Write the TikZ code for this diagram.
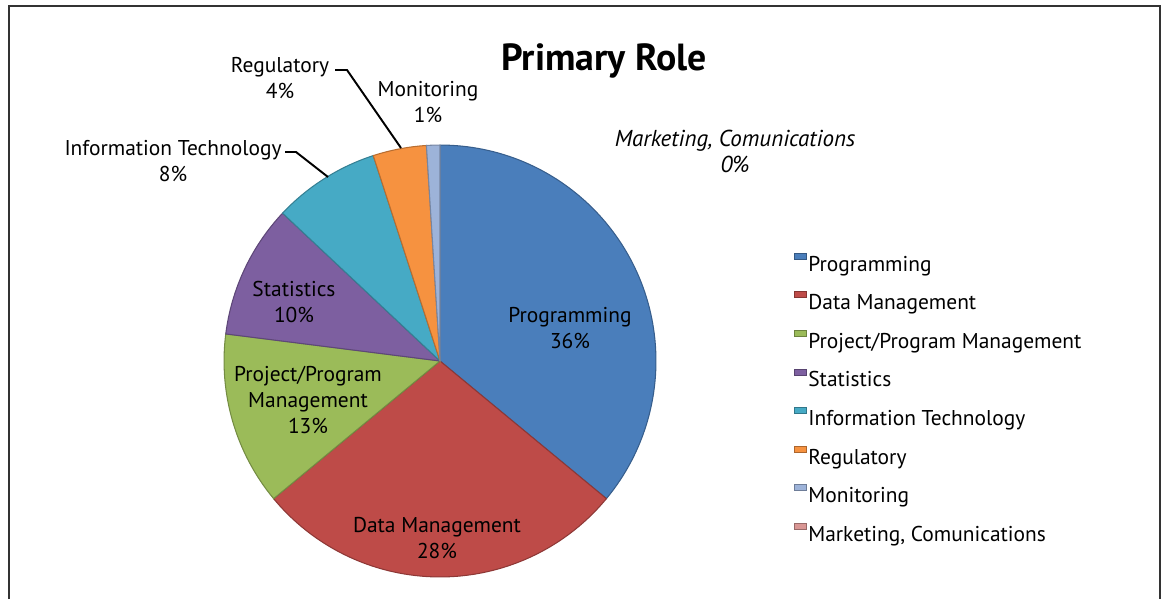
\documentclass[tikz,border=0pt]{standalone}
\usepackage{fontspec}
\setmainfont{PT Sans}
\usetikzlibrary{positioning}

\definecolor{progblue}{HTML}{4A7EBB}
\definecolor{datared}{HTML}{BE4B48}
\definecolor{projgreen}{HTML}{9BBB59}
\definecolor{statpurple}{HTML}{7D5FA0}
\definecolor{itcyan}{HTML}{46AAC5}
\definecolor{regorange}{HTML}{F69240}
\definecolor{monblue}{HTML}{9DB3D9}
\definecolor{markpink}{HTML}{D99694}

\begin{document}
\begin{tikzpicture}[x=0.02cm,y=0.02cm,
  font=\fontsize{12.2}{14.8}\selectfont,
  slice/.style={fill=#1, draw=#1!75!black, line width=0.6pt},
  lbl/.style={align=center, inner sep=0pt},
  leader/.style={line width=1.1pt, black},
  key/.style={anchor=base west, inner sep=0pt},
  keybox/.style={fill=#1, draw=#1!70!black, line width=0.3pt}]

\useasboundingbox (0,0) rectangle (1162,599);

% Frame
\draw[line width=1.4pt, black!80] (9,0) -- (9,593) -- (1160,593) -- (1160,0);

% Title
\node[font=\bfseries\fontsize{21.5}{24}\selectfont] (title) at (604,538) {Primary Role};

% Slices (clockwise from the top)
\coordinate (c) at (440,238);
\def\rad{4.32cm}
  \draw[slice=progblue]   (c) -- ++(90:\rad)    arc (90:-39.6:\rad)     -- cycle;
  \draw[slice=datared]    (c) -- ++(-39.6:\rad) arc (-39.6:-140.4:\rad) -- cycle;
  \draw[slice=projgreen]  (c) -- ++(219.6:\rad) arc (219.6:172.8:\rad)  -- cycle;
  \draw[slice=statpurple] (c) -- ++(172.8:\rad) arc (172.8:136.8:\rad)  -- cycle;
  \draw[slice=itcyan]     (c) -- ++(136.8:\rad) arc (136.8:108:\rad)    -- cycle;
  \draw[slice=regorange]  (c) -- ++(108:\rad)   arc (108:93.6:\rad)     -- cycle;
  \draw[slice=monblue]    (c) -- ++(93.6:\rad)  arc (93.6:90:\rad)      -- cycle;

% Slice labels
\node[lbl] (proglab) at (570,271) {Programming\\36\%};
\node[lbl] (datalab) at (437,61) {Data Management\\28\%};
\node[lbl] (projlab) at (308,199) {Project/Program\\Management\\13\%};
\node[lbl] (statlab) at (294,297) {Statistics\\10\%};
\node[lbl] (itlab) at (173,438) {Information Technology\\8\%};
\node[lbl] (reglab) at (280,521) {Regulatory\\4\%};
\node[lbl] (monlab) at (428,497) {Monitoring\\1\%};
\node[lbl, font=\itshape\fontsize{13.1}{14.8}\selectfont] (mktlab) at (735,448) {Marketing, Comunications\\0\%};

% Leader lines
\coordinate (itA) at (285,447);
\coordinate (itB) at (296,447);
\coordinate (itC) at (328,422);
\draw[leader] (itA) -- (itB) -- (itC);
\coordinate (regA) at (335,529);
\coordinate (regB) at (347,529);
\coordinate (regC) at (401,451);
\draw[leader] (regA) -- (regB) -- (regC);

% Legend
\foreach \txt/\col [count=\i from 0] in {Programming/progblue, Data Management/datared,
    {Project/Program Management}/projgreen, Statistics/statpurple,
    Information Technology/itcyan, Regulatory/regorange, Monitoring/monblue,
    {Marketing, Comunications}/markpink}
{
  \node[key] (key\i) at (808,{328-38.6*\i}) {\txt};
  \draw[keybox=\col] (794,{340-38.6*\i}) rectangle (806,{346-38.6*\i});
}

\end{tikzpicture}
\end{document}
